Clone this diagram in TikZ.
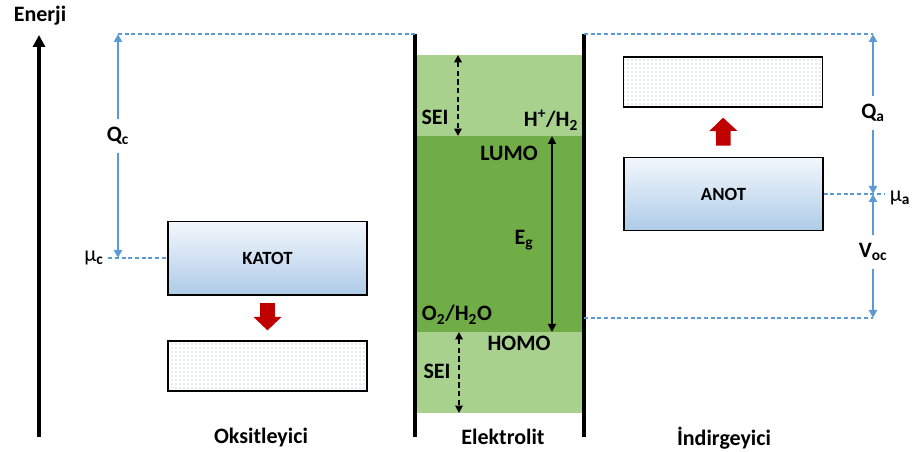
\documentclass[tikz,border=0pt]{standalone}
\usepackage{fontspec}
\setmainfont{Carlito}
\usepackage{tikz}
\usetikzlibrary{arrows.meta,positioning,calc,patterns}

\definecolor{dimblue}{HTML}{5B9BD5}
\definecolor{seigreen}{HTML}{A9D18E}
\definecolor{gapgreen}{HTML}{70AD47}
\definecolor{movered}{HTML}{C00000}
\definecolor{boxtop}{HTML}{F3F7FC}
\definecolor{boxbot}{HTML}{AECBE8}
\definecolor{dotblue}{HTML}{7FB0DE}

\begin{document}
\begin{tikzpicture}[
  x=0.75pt, y=-0.75pt,
  every node/.style={font=\fontsize{16.5}{19}\selectfont\bfseries},
  wall/.style={line width=2.3pt},
  enaxis/.style={line width=2.3pt, -{Triangle[length=9pt,width=9pt]}},
  leveldash/.style={dimblue, dashed, dash pattern=on 3pt off 2pt, line width=0.9pt},
  dim/.style={dimblue, line width=1.6pt, -{Triangle[length=6pt,width=6pt]}},
  seiarrow/.style={dashed, dash pattern=on 4pt off 2.5pt, line width=1.4pt,
                   {Triangle[length=5.5pt,width=5.5pt]}-{Triangle[length=5.5pt,width=5.5pt]}},
  gaparrow/.style={line width=1.4pt,
                   {Triangle[length=6pt,width=6pt]}-{Triangle[length=6pt,width=6pt]}},
  electrode/.style={draw, line width=1pt, top color=boxtop, bottom color=boxbot,
                    minimum width=149.25pt, minimum height=55pt,
                    font=\fontsize{14}{16}\selectfont\bfseries},
  dotband/.style={draw, line width=1pt, preaction={fill=white},
                  pattern=dots, pattern color=dotblue,
                  minimum width=149.25pt, minimum height=37.5pt},
  movearrow/.style={movered, line width=11pt,
                    -{Triangle[length=10pt,width=21pt,line width=0pt]}},
  dimlabel/.style={inner sep=6pt}]
\useasboundingbox (0,0) rectangle (915,452);

% ================= energy axis =============================================
\coordinate (axBot) at (39,437);
\coordinate (axTop) at (39,35);
\draw[enaxis] (axBot) -- (axTop);
\node (enerji) at (40,16) {Enerji};

% ================= electrolyte window ======================================
\fill[seigreen] (415,55) rectangle (584,413);
\fill[gapgreen] (415,136) rectangle (584,332);
\draw[wall] (415,34) -- (415,437);
\draw[wall] (584,34) -- (584,437);

\coordinate (seiTopA) at (458,55);
\coordinate (seiTopB) at (458,136);
\coordinate (seiBotA) at (459,332);
\coordinate (seiBotB) at (459,413);
\draw[seiarrow] (seiTopA) -- (seiTopB);
\draw[seiarrow] (seiBotA) -- (seiBotB);
\coordinate (egTop) at (552,136);
\coordinate (egBot) at (552,332);
\draw[gaparrow] (egTop) -- (egBot);

\node (seiU)  at (435,117) {SEI};
\node (hplus) at (551,120) {H\textsuperscript{+}/H\textsubscript{2}};
\node (lumo)  at (509,153) {LUMO};
\node (eg)    at (524,240) {E\textsubscript{g}};
\node (oxy)   at (457,315) {O\textsubscript{2}/H\textsubscript{2}O};
\node (homo)  at (519,343) {HOMO};
\node (seiL)  at (437,371) {SEI};
\node (elektrolit) at (503,437) {Elektrolit};

% ================= cathode side ============================================
\node[electrode] (katot) at (267.5,258.5) {KATOT};
\node[dotband] (lowL) at (267.5,366) {};
\draw[movearrow, shorten <=5.25pt, shorten >=7.5pt] (katot.south) -- (lowL.north);

\coordinate (qcTop) at (118,34);
\coordinate (lwTop) at (415,34);
\coordinate (mucP) at (118,258);
\draw[leveldash] (qcTop) -- (lwTop);
\node[dimlabel] (qc) at (118,136) {Q\textsubscript{c}};
\draw[dim] (qc) -- (qcTop);
\draw[dim] (qc) -- (mucP);
\node (muc) at (94,258) {{\mdseries μ}\textsubscript{c}};
\draw[leveldash] (muc.east |- mucP) -- (katot.west |- mucP);
\node (oksit) at (261,438) {Oksitleyici};

% ================= anode side ==============================================
\node[electrode] (anot) at (723.5,194) {ANOT};
\node[dotband] (highR) at (723,82) {};
\draw[movearrow, shorten <=8.25pt, shorten >=7.5pt] (anot.north) -- (highR.south);

\coordinate (rwTop) at (584,34);
\coordinate (qaTop) at (873,34);
\coordinate (muaP) at (873,194);
\coordinate (rwBot) at (584,318);
\coordinate (vocBot) at (873,318);
\draw[leveldash] (rwTop) -- (qaTop);
\draw[leveldash] (rwBot) -- (vocBot);
\node[dimlabel] (qa) at (873,113) {Q\textsubscript{a}};
\draw[dim] (qa) -- (qaTop);
\draw[dim] (qa) -- (muaP);
\node[dimlabel] (voc) at (873,252) {V\textsubscript{oc}};
\draw[dim] (voc) -- (muaP);
\draw[dim] (voc) -- (vocBot);
\node (mua) at (900,198) {{\mdseries μ}\textsubscript{a}};
\draw[leveldash] (anot.east) -- (mua.west |- anot.east);
\node (indir) at (724,438) {İndirgeyici};

\end{tikzpicture}
\end{document}
